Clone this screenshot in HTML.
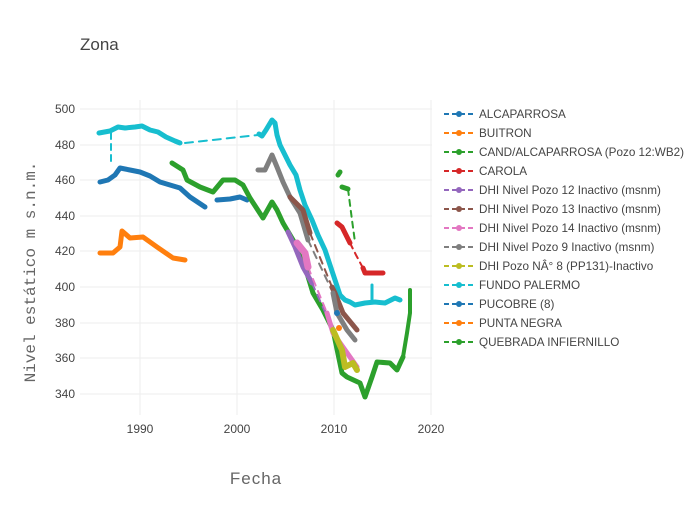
<!DOCTYPE html>
<html><head><meta charset="utf-8"><style>
body{margin:0;background:#fff}
svg{font-family:"Liberation Sans",sans-serif}
</style></head><body>
<svg width="700" height="500" xmlns="http://www.w3.org/2000/svg">
<rect width="700" height="500" fill="#fff"/>
<g stroke="#eee" stroke-width="1">
<line x1="80" x2="432" y1="109" y2="109"/><line x1="80" x2="432" y1="145" y2="145"/><line x1="80" x2="432" y1="180" y2="180"/><line x1="80" x2="432" y1="216" y2="216"/><line x1="80" x2="432" y1="251" y2="251"/><line x1="80" x2="432" y1="287" y2="287"/><line x1="80" x2="432" y1="323" y2="323"/><line x1="80" x2="432" y1="358" y2="358"/><line x1="80" x2="432" y1="394" y2="394"/>
<line y1="100" y2="415" x1="140" x2="140"/><line y1="100" y2="415" x1="237" x2="237"/><line y1="100" y2="415" x1="334" x2="334"/><line y1="100" y2="415" x1="431" x2="431"/>
</g>
<g font-size="12" fill="#444" text-anchor="end">
<text x="75" y="113">500</text><text x="75" y="149">480</text><text x="75" y="184">460</text><text x="75" y="220">440</text><text x="75" y="255">420</text><text x="75" y="291">400</text><text x="75" y="327">380</text><text x="75" y="362">360</text><text x="75" y="398">340</text>
</g>
<g font-size="12" fill="#444" text-anchor="middle">
<text x="140" y="433">1990</text><text x="237" y="433">2000</text><text x="334" y="433">2010</text><text x="431" y="433">2020</text>
</g>
<text x="80" y="50" font-size="17" fill="#444">Zona</text>
<text x="256" y="484" font-size="17" fill="#666" text-anchor="middle" letter-spacing="1">Fecha</text>
<text transform="translate(35,272) rotate(-90)" font-size="16" fill="#666" text-anchor="middle" font-family="Liberation Mono,monospace">Nivel estático m s.n.m.</text>
<g fill="none" stroke-width="5" stroke-linecap="round" stroke-linejoin="round">
<polyline stroke="#ff7f0e" points="100,253 113,253 120,247 122,231 130,238 143,237 157,247 173,258 185,260"/>
<polyline stroke="#1f77b4" points="100,182 108,180 115,175 120,168 130,170 140,172 150,176 160,182 170,185 180,188 190,197 205,207"/>
<polyline stroke="#1f77b4" points="217,200 230,199 240,197 247,200"/>
<polyline stroke="#17becf" points="99,133 110,131 118,127 125,128 135,127 142,126 150,130 158,132 166,137 175,141 180,143"/>
<polyline stroke="#17becf" stroke-width="2" stroke-dasharray="6,5" points="111,133 111,162"/>
<polyline stroke="#17becf" stroke-width="2" stroke-dasharray="8,6" points="185,143 258,135"/>
<polyline stroke="#17becf" points="259,134 262,136 266,130 272,120 275,123 277,135 280,145 285,155 290,165 296,175 300,190 305,205 312,220 318,235 325,250 330,265 335,280 340,295 345,300 350,302 355,305 365,303 375,302 385,303 395,298 400,300"/>
<polyline stroke="#17becf" stroke-width="3" points="372,303 372,285"/>
<polyline stroke="#2ca02c" points="172,163 183,170 187,180 200,187 213,192 223,180 235,180 243,185 250,198 263,218 272,202 277,210 283,223 293,240 303,260 313,293 323,310 333,330 342,373 347,377 360,383 365,397 372,377 377,362 390,363 397,370 403,357"/>
<polyline stroke="#2ca02c" stroke-width="4" points="403,357 407,333 410,313 410,290"/>
<polyline stroke="#2ca02c" points="338,175 340,172"/>
<polyline stroke="#2ca02c" points="342,187 348,189"/>
<polyline stroke="#2ca02c" stroke-width="2" stroke-dasharray="6,5" points="348,189 352,220 355,242"/>
<polyline stroke="#d62728" points="337,223 342,227 350,243"/>
<polyline stroke="#d62728" stroke-width="2" stroke-dasharray="6,5" points="350,243 356,255 363,268"/>
<polyline stroke="#d62728" points="363,268 365,273 383,273"/>
<polyline stroke="#7f7f7f" points="258,170 265,170 272,155 277,167 283,182 290,197 300,213 308,240"/>
<polyline stroke="#7f7f7f" stroke-width="2" stroke-dasharray="7,6" points="308,240 333,293"/>
<polyline stroke="#8c564b" points="290,197 303,210 310,233"/>
<polyline stroke="#8c564b" stroke-width="2" stroke-dasharray="7,6" points="310,233 332,287"/>
<polyline stroke="#8c564b" points="332,287 335,293 343,313 357,330"/>
<polyline stroke="#7f7f7f" points="333,293 337,313 347,330 355,340"/>
<polyline stroke="#9467bd" points="288,232 295,247 303,267 312,283"/>
<polyline stroke="#9467bd" stroke-width="2" stroke-dasharray="7,6" points="312,283 330,323"/>
<polyline stroke="#e377c2" stroke-width="7" points="297,243 305,253 308,267"/>
<polyline stroke="#e377c2" stroke-width="2" stroke-dasharray="7,6" points="308,267 327,313"/>
<polyline stroke="#e377c2" points="327,313 333,333 357,367"/>
<polyline stroke="#bcbd22" stroke-width="6" points="333,330 342,350 345,367 353,363 357,370"/>
<circle cx="337" cy="313" r="3" fill="#1f77b4" stroke="none"/>
<circle cx="339" cy="328" r="3" fill="#ff7f0e" stroke="none"/>
</g>
<g font-size="11.7" fill="#444">
<g stroke-width="2" stroke-dasharray="5,3">
<line x1="444" x2="474" y1="114" y2="114" stroke="#1f77b4"/><line x1="444" x2="474" y1="133" y2="133" stroke="#ff7f0e"/><line x1="444" x2="474" y1="152" y2="152" stroke="#2ca02c"/><line x1="444" x2="474" y1="171" y2="171" stroke="#d62728"/><line x1="444" x2="474" y1="190" y2="190" stroke="#9467bd"/><line x1="444" x2="474" y1="209" y2="209" stroke="#8c564b"/><line x1="444" x2="474" y1="228" y2="228" stroke="#e377c2"/><line x1="444" x2="474" y1="247" y2="247" stroke="#7f7f7f"/><line x1="444" x2="474" y1="266" y2="266" stroke="#bcbd22"/><line x1="444" x2="474" y1="285" y2="285" stroke="#17becf"/><line x1="444" x2="474" y1="304" y2="304" stroke="#1f77b4"/><line x1="444" x2="474" y1="323" y2="323" stroke="#ff7f0e"/><line x1="444" x2="474" y1="342" y2="342" stroke="#2ca02c"/>
</g>
<circle cx="459" cy="114" r="3" fill="#1f77b4"/><circle cx="459" cy="133" r="3" fill="#ff7f0e"/><circle cx="459" cy="152" r="3" fill="#2ca02c"/><circle cx="459" cy="171" r="3" fill="#d62728"/><circle cx="459" cy="190" r="3" fill="#9467bd"/><circle cx="459" cy="209" r="3" fill="#8c564b"/><circle cx="459" cy="228" r="3" fill="#e377c2"/><circle cx="459" cy="247" r="3" fill="#7f7f7f"/><circle cx="459" cy="266" r="3" fill="#bcbd22"/><circle cx="459" cy="285" r="3" fill="#17becf"/><circle cx="459" cy="304" r="3" fill="#1f77b4"/><circle cx="459" cy="323" r="3" fill="#ff7f0e"/><circle cx="459" cy="342" r="3" fill="#2ca02c"/>
<text x="479" y="118">ALCAPARROSA</text><text x="479" y="137">BUITRON</text><text x="479" y="156">CAND/ALCAPARROSA (Pozo 12:WB2)</text><text x="479" y="175">CAROLA</text><text x="479" y="194">DHI Nivel Pozo 12 Inactivo (msnm)</text><text x="479" y="213">DHI Nivel Pozo 13 Inactivo (msnm)</text><text x="479" y="232">DHI Nivel Pozo 14 Inactivo (msnm)</text><text x="479" y="251">DHI Nivel Pozo 9 Inactivo (msnm)</text><text x="479" y="270">DHI Pozo NÂ° 8 (PP131)-Inactivo</text><text x="479" y="289">FUNDO PALERMO</text><text x="479" y="308">PUCOBRE (8)</text><text x="479" y="327">PUNTA NEGRA</text><text x="479" y="346">QUEBRADA INFIERNILLO</text>
</g>
</svg>
</body></html>
